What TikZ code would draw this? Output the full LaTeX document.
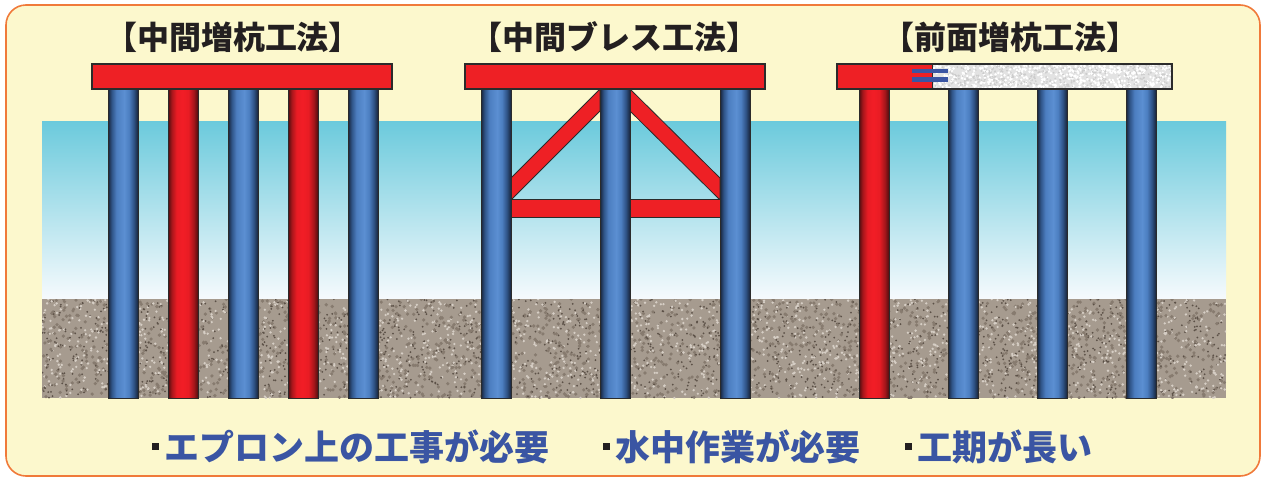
\documentclass[tikz,border=0pt]{standalone}
\usepackage{fontspec}
\newfontfamily\jp{Noto Sans CJK JP}
\usepackage{xcolor}
\usepackage{tikz}
\definecolor{framebg}{HTML}{FCF8CD}
\definecolor{frameline}{HTML}{F07A3A}
\definecolor{deckred}{HTML}{EE2025}
\definecolor{noteblue}{HTML}{3A55A3}
\definecolor{inkgray}{HTML}{231F20}
\definecolor{edge}{HTML}{2B2B2B}
\definecolor{seatop}{HTML}{6BCADC}
\definecolor{seabot}{HTML}{F6FAFD}
\definecolor{soil}{HTML}{A69B8F}
\definecolor{soilmid}{HTML}{877B6F}
\definecolor{soillight}{HTML}{D6CEC5}
\definecolor{soildark}{HTML}{5C5147}
\definecolor{slab}{HTML}{E3E3E3}
% pile colours, dark rim to bright face
\definecolor{bA}{HTML}{18243A}
\definecolor{bB}{HTML}{2F5386}
\definecolor{bC}{HTML}{4C7EC0}
\definecolor{bD}{HTML}{5B8FD2}
\definecolor{rA}{HTML}{4E0E10}
\definecolor{rB}{HTML}{A5161B}
\definecolor{rC}{HTML}{E81C24}
\definecolor{rD}{HTML}{F21D26}
\pgfdeclarehorizontalshading{bluepile}{100bp}{color(0bp)=(bA); color(25bp)=(bA);
  color(31bp)=(bB); color(39bp)=(bC); color(52bp)=(bD); color(60bp)=(bC);
  color(68bp)=(bB); color(75bp)=(bA); color(100bp)=(bA)}
\pgfdeclarehorizontalshading{redpile}{100bp}{color(0bp)=(rA); color(25bp)=(rA);
  color(31bp)=(rB); color(39bp)=(rC); color(49bp)=(rD); color(59bp)=(rC);
  color(68bp)=(rB); color(75bp)=(rA); color(100bp)=(rA)}

\begin{document}
\begin{tikzpicture}[x=1pt, y=-1pt,
    pile/.style={draw=edge, line width=0.8pt},
    deck/.style={draw=edge, line width=1.2pt},
    brace/.style={fill=deckred, draw=edge, line width=0.8pt},
    title/.style={anchor=base, inner sep=0pt, text=inkgray,
      font=\jp\bfseries\fontsize{32}{32}\selectfont},
    note/.style={anchor=base west, inner sep=0pt, text=noteblue,
      font=\jp\bfseries\fontsize{35}{35}\selectfont}]
  \useasboundingbox (0,0) rectangle (1262,477);
  \draw[fill=framebg, draw=frameline, line width=1.6pt, rounded corners=20pt]
    (6,5) rectangle (1260,476);

  % sea and sea bed
  \shade[top color=seatop, bottom color=seabot] (42,121) rectangle (1226,299);
  \fill[soil] (42,299) rectangle (1226,398);
  \begin{scope}
    \clip (42,299) rectangle (1226,398);
    \pgfmathsetseed{11}
    \foreach \i in {1,...,1800} {
      \fill[soilmid] (42+1184*rnd, 299+99*rnd) circle (1.8);
      \fill[soillight] (42+1184*rnd, 299+99*rnd) circle (1.3);
      \fill[soildark] (42+1184*rnd, 299+99*rnd) circle (1.0);
    }
  \end{scope}

  % bracing
  \draw[brace] (511,178) -- (600,89) -- (600,111) -- (511,200) -- cycle;
  \draw[brace] (630,89) -- (720,178) -- (720,200) -- (630,111) -- cycle;
  \draw[brace] (511,199) rectangle (720,217);

  \foreach \x/\s in {123/bluepile, 183/redpile, 243/bluepile, 303/redpile,
      363/bluepile, 496/bluepile, 615/bluepile, 735/bluepile, 874/redpile,
      963/bluepile, 1052/bluepile, 1141/bluepile}
    \shade[pile, shading=\s] (\x-15,88) rectangle (\x+15,398);

  % decks
  \fill[deckred] (92,64) rectangle (392,89);
  \draw[deck] (92,64) rectangle (392,89);
  \fill[deckred] (465,64) rectangle (765,89);
  \draw[deck] (465,64) rectangle (765,89);
  \fill[deckred] (837,64) rectangle (932,89);
  \fill[slab] (932,64) rectangle (1172,89);
  \begin{scope}
    \clip (932,64) rectangle (1172,89);
    \foreach \i in {1,...,500} {
      \fill[white] (932+240*rnd, 64+25*rnd) circle (1.4);
      \fill[black!20] (932+240*rnd, 64+25*rnd) circle (1.0);
    }
  \end{scope}
  \draw[deck] (837,64) rectangle (1172,89);
  \draw[edge, line width=0.8pt] (932,64) -- (932,89);
  \fill[noteblue] (912,69) rectangle (948,73);
  \fill[noteblue] (912,77) rectangle (948,82);

  \node[title] (t1) at (233,49) {【中間増杭工法】};
  \node[title] (t2) at (614,49) {【中間ブレス工法】};
  \node[title] (t3) at (1010,49) {【前面増杭工法】};

  \node[note] (n1) at (152,460)
    {{\color{inkgray}\rule[10pt]{7pt}{7pt}}\hspace{5pt}エプロン上の工事が必要};
  \node[note] (n2) at (603,460)
    {{\color{inkgray}\rule[10pt]{7pt}{7pt}}\hspace{5pt}水中作業が必要};
  \node[note] (n3) at (905,460)
    {{\color{inkgray}\rule[10pt]{7pt}{7pt}}\hspace{5pt}工期が長い};
\end{tikzpicture}
\end{document}
